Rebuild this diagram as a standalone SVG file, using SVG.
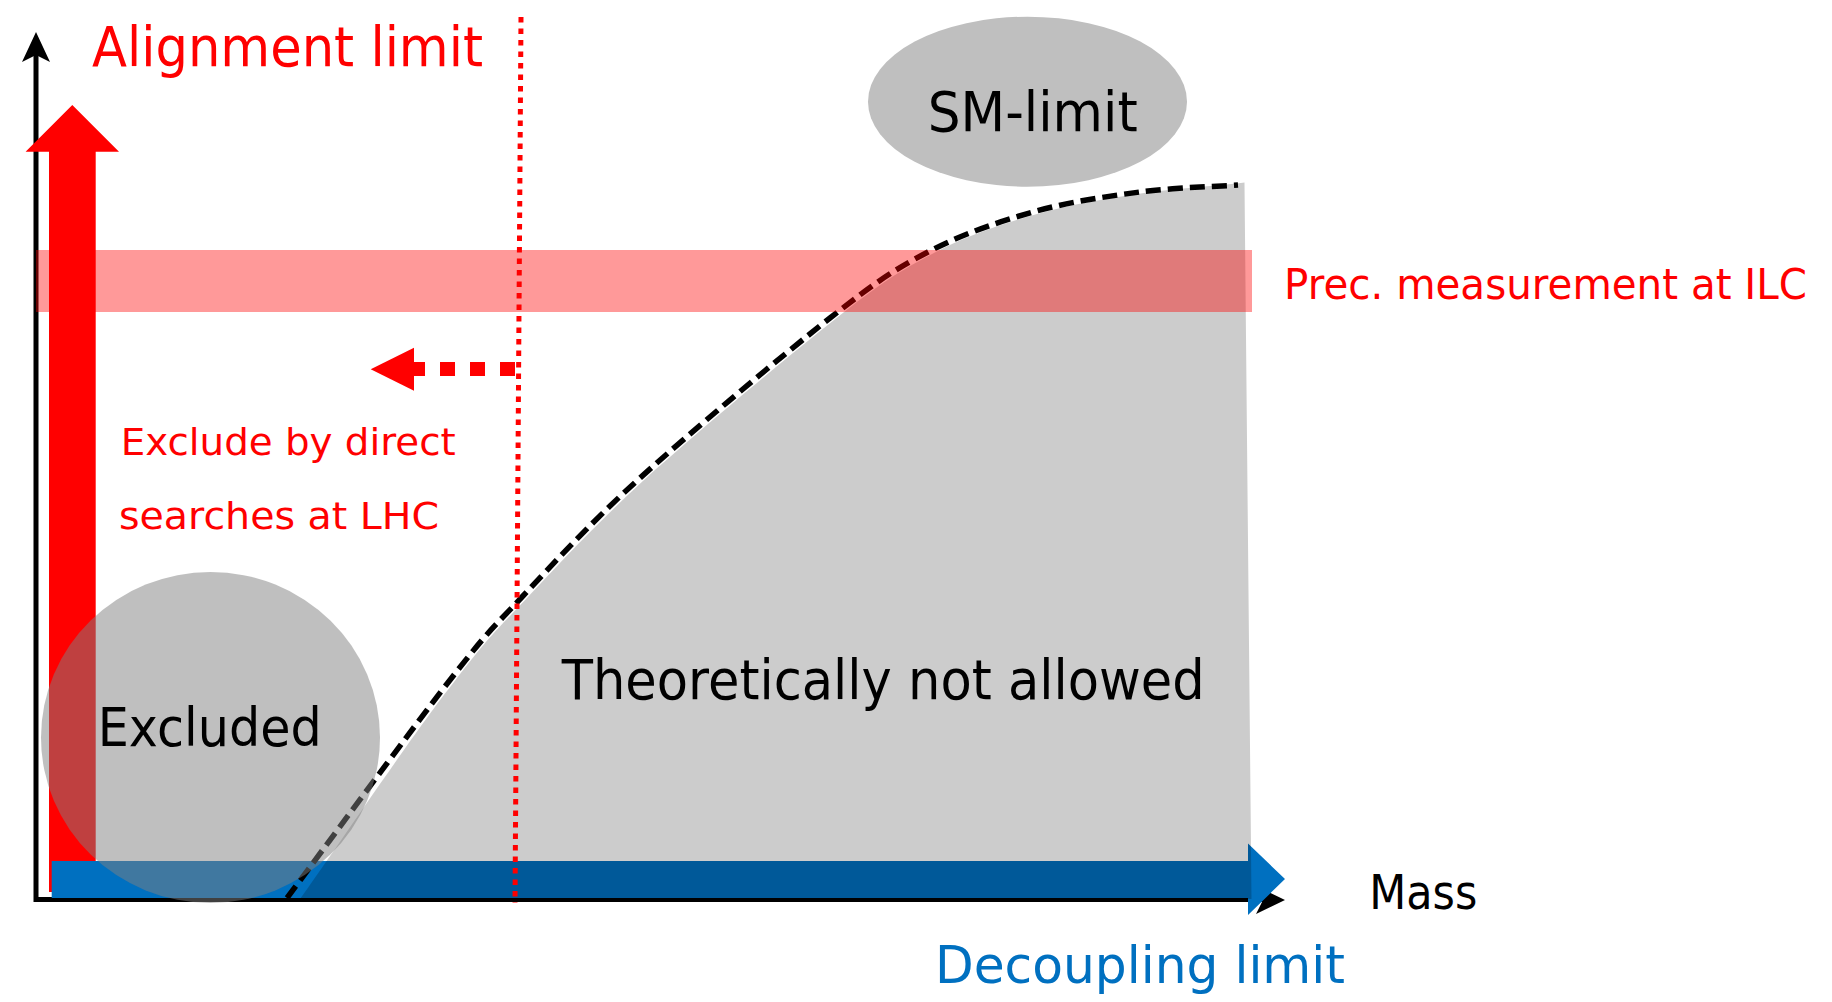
<svg xmlns="http://www.w3.org/2000/svg" width="1832" height="1002" viewBox="0 0 1832 1002">
<style>
  text { font-family: "DejaVu Sans", Verdana, sans-serif; }
  .red { fill: #ff0000; }
  .blue { fill: #0070c0; }
  .blk { fill: #000000; }
  .axis { stroke: #000; stroke-width: 5; fill: none; }
</style>
<rect x="0" y="0" width="1832" height="1002" fill="#ffffff"/>

<g id="axes">
  <line class="axis" x1="36" y1="902" x2="36" y2="50"/>
  <path d="M36,32 L22,62 L36,55 L50,62 Z" fill="#000"/>
  <line class="axis" x1="34" y1="899.5" x2="1270" y2="899.5"/>
  <path d="M1285,900 L1256,886 L1263,900 L1256,914 Z" fill="#000"/>
</g>

<g id="alignment-arrow">
  <path d="M49,892 L49,151.7 L25.6,151.7 L72.3,105 L119,151.7 L95.7,151.7 L95.7,892 Z" fill="#ff0000"/>
</g>

<g id="decoupling-arrow">
  <path d="M51.7,861 L1248,861 L1248,843.6 L1285,879 L1248,915 L1248,898 L51.7,898 Z" fill="#0070c0"/>
</g>

<g id="theoretically-not-allowed">
  <path d="M300,899 C327,862 414,732 454,682 C493,632 494,633 526,599 C558,565 593,527 644,480 C695,434 786,358 834,320 C882,282 898,272 932,254 C966,236 1002,224 1037,214 C1072,204 1110,198 1144,193 C1178,188.5 1226,185 1244.5,182.5 L1251.5,899 Z" fill="#000000" fill-opacity="0.2"/>
  <text x="561.7" y="699.3" font-size="55" class="blk" textLength="643" lengthAdjust="spacingAndGlyphs">Theoretically not allowed</text>
</g>

<g id="connectors">
  <path d="M287,898 C314.2,861.7 410.8,730.2 450,680 C489.2,629.8 490.3,630.7 522,597 C553.7,563.3 588.7,524.5 640,478 C691.3,431.5 782,355.7 830,318 C878,280.3 894.2,269.7 928,252 C961.8,234.3 997.7,222 1033,212 C1068.3,202 1105.8,196.5 1140,192 C1174.2,187.5 1221.7,186.2 1238,185" fill="none" stroke="#000" stroke-width="5.5" stroke-dasharray="15 7"/>
  <line x1="521" y1="17" x2="515" y2="903" stroke="#ff0000" stroke-width="5" stroke-dasharray="5.5 6"/>
  <line x1="515" y1="369" x2="414" y2="369" stroke="#ff0000" stroke-width="14" stroke-dasharray="15 15"/>
  <path d="M414,347.7 L370.7,369.3 L414,390.7 Z" fill="#ff0000"/>
</g>

<g id="ilc-band">
  <rect x="36" y="250" width="1216" height="62" fill="#ff0000" fill-opacity="0.4"/>
  <text x="1284" y="299" font-size="42" class="red" textLength="523" lengthAdjust="spacingAndGlyphs">Prec. measurement at ILC</text>
</g>

<g id="excluded">
  <ellipse cx="210.5" cy="737.5" rx="169.5" ry="165.5" fill="#808080" fill-opacity="0.5"/>
  <text x="97.7" y="746" font-size="54" class="blk" textLength="224" lengthAdjust="spacingAndGlyphs">Excluded</text>
</g>

<g id="sm-limit">
  <ellipse cx="1027.5" cy="101.7" rx="159.5" ry="85" fill="#bfbfbf"/>
  <text x="927.7" y="130.7" font-size="55" class="blk" textLength="210" lengthAdjust="spacingAndGlyphs">SM-limit</text>
</g>

<g id="labels">
  <text x="92" y="66" font-size="56" class="red" textLength="391" lengthAdjust="spacingAndGlyphs">Alignment limit</text>
  <text x="120.7" y="455" font-size="38" class="red" textLength="335" lengthAdjust="spacingAndGlyphs">Exclude by direct</text>
  <text x="119" y="529.3" font-size="38" class="red" textLength="320" lengthAdjust="spacingAndGlyphs">searches at LHC</text>
  <text x="1369.3" y="909.3" font-size="48" class="blk" textLength="108" lengthAdjust="spacingAndGlyphs">Mass</text>
  <text x="935" y="983.3" font-size="52" class="blue" textLength="410" lengthAdjust="spacingAndGlyphs">Decoupling limit</text>
</g>
</svg>
